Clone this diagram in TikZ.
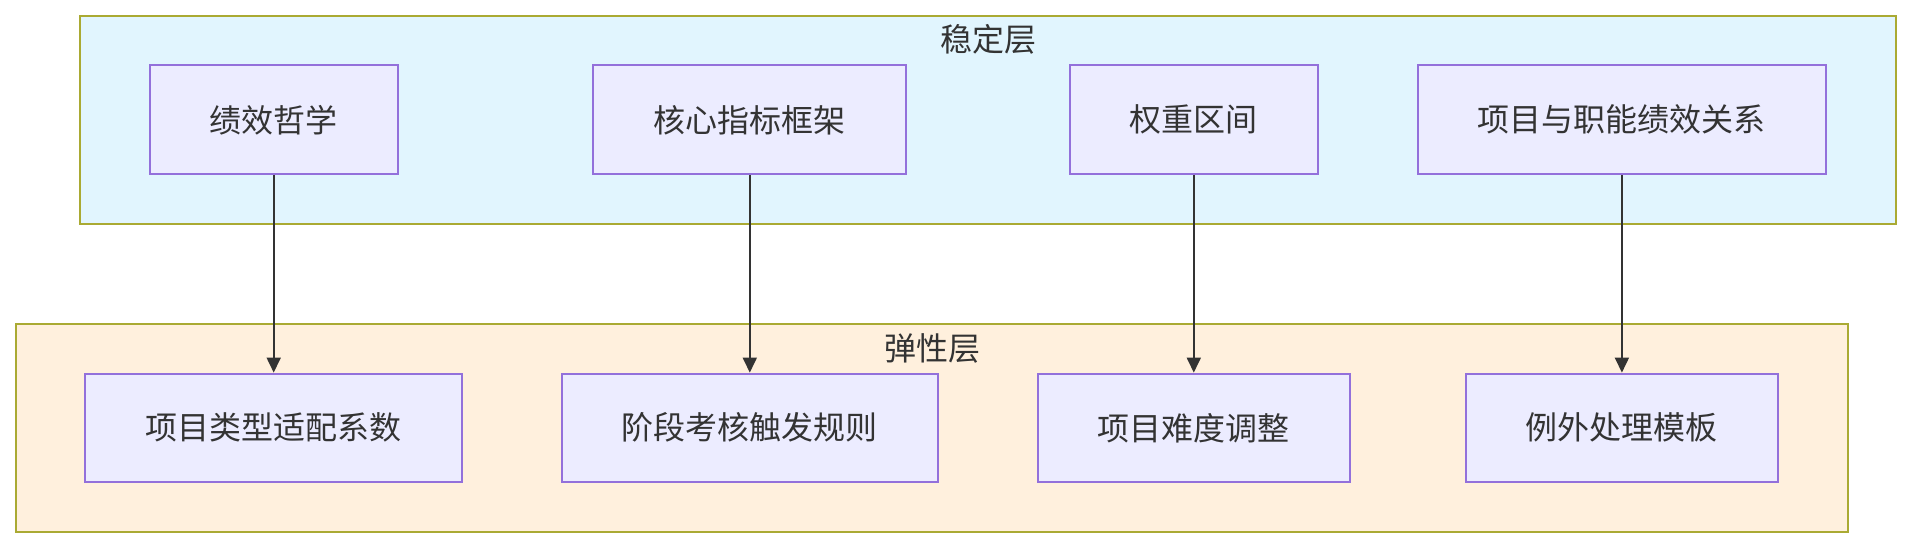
\documentclass[tikz,border=0pt]{standalone}
\usepackage{fontspec}
\setmainfont{Noto Sans CJK SC}
\usetikzlibrary{arrows.meta}
\definecolor{txt}{HTML}{333333}
\definecolor{nodefill}{HTML}{ECECFF}
\definecolor{nodeline}{HTML}{9370DB}
\definecolor{clline}{HTML}{AAAA33}
\definecolor{stablefill}{HTML}{E1F5FE}
\definecolor{elasticfill}{HTML}{FFF0DD}
\tikzset{
  box/.style={draw=nodeline, fill=nodefill, line width=2pt, rectangle, inner sep=0pt,
    text=txt, font=\fontsize{32}{38}\selectfont},
  cluster/.style={draw=clline, line width=2pt, rectangle, inner sep=0pt},
  cllabel/.style={text=txt, font=\fontsize{32}{38}\selectfont, inner sep=0pt},
  link/.style={draw=txt, line width=1.8pt, -{Triangle[length=15pt,width=14pt]}}
}
\begin{document}
\begin{tikzpicture}[x=1pt,y=-1pt]
\useasboundingbox (0,0) rectangle (1912,548);
% clusters
\node[cluster, fill=stablefill, minimum width=1816pt, minimum height=208pt] (stable) at (988,120) {};
\node[cluster, fill=elasticfill, minimum width=1832pt, minimum height=208pt] (elastic) at (932,428) {};
\node[cllabel] (stablelbl) at (988,39) {稳定层};
\node[cllabel] (elasticlbl) at (932,348) {弹性层};
% top row
\node[box, minimum width=248pt, minimum height=109pt] (A) at (273.7,119.8) {绩效哲学};
\node[box, minimum width=313pt, minimum height=109pt] (B) at (749.8,119.8) {核心指标框架};
\node[box, minimum width=248pt, minimum height=109pt] (C) at (1193.8,119.8) {权重区间};
\node[box, minimum width=408.6pt, minimum height=109pt] (D) at (1621.9,119.8) {项目与职能绩效关系};
% bottom row
\node[box, minimum width=376.7pt, minimum height=108.4pt] (E) at (273.7,427.8) {项目类型适配系数};
\node[box, minimum width=376.4pt, minimum height=108.4pt] (F) at (749.8,427.8) {阶段考核触发规则};
\node[box, minimum width=312.5pt, minimum height=108.4pt] (G) at (1193.8,427.8) {项目难度调整};
\node[box, minimum width=312.3pt, minimum height=108.4pt] (H) at (1621.9,427.8) {例外处理模板};
% links
\draw[link] (A.south) -- (E.north);
\draw[link] (B.south) -- (F.north);
\draw[link] (C.south) -- (G.north);
\draw[link] (D.south) -- (H.north);
\end{tikzpicture}
\end{document}
